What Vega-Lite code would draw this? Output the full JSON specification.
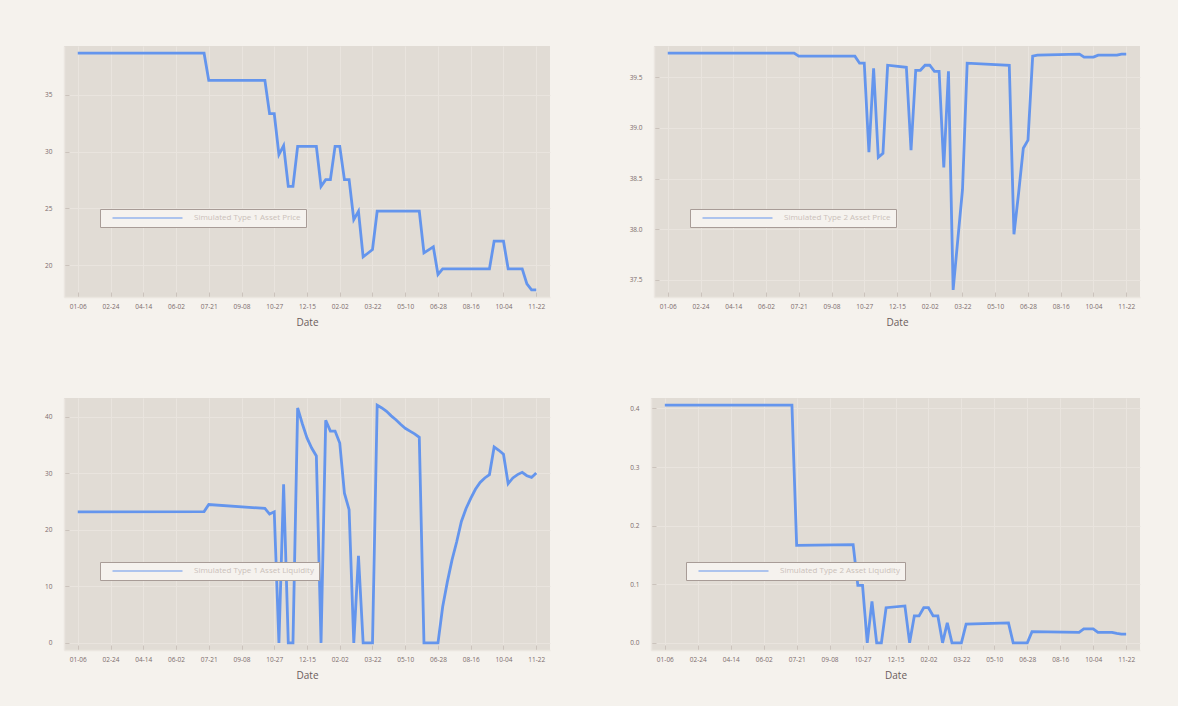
{
  "$schema": "https://vega.github.io/schema/vega-lite/v6.json",
  "background": "#f5f2ed",
  "padding": {"top": 46, "left": 34, "right": 38, "bottom": 30},
  "autosize": {"type": "pad"},
  "datasets": {
    "p1": [
      {"date": "2019-01-06T00:00:00", "value": 38.66},
      {"date": "2019-07-14T00:00:00", "value": 38.66},
      {"date": "2019-07-21T00:00:00", "value": 36.26},
      {"date": "2019-10-13T00:00:00", "value": 36.26},
      {"date": "2019-10-20T00:00:00", "value": 33.33},
      {"date": "2019-10-27T00:00:00", "value": 33.33},
      {"date": "2019-11-03T00:00:00", "value": 29.73},
      {"date": "2019-11-10T00:00:00", "value": 30.52},
      {"date": "2019-11-17T00:00:00", "value": 26.94},
      {"date": "2019-11-24T00:00:00", "value": 26.94},
      {"date": "2019-12-01T00:00:00", "value": 30.46},
      {"date": "2019-12-29T00:00:00", "value": 30.46},
      {"date": "2020-01-05T00:00:00", "value": 26.94},
      {"date": "2020-01-12T00:00:00", "value": 27.53},
      {"date": "2020-01-19T00:00:00", "value": 27.53},
      {"date": "2020-01-26T00:00:00", "value": 30.46},
      {"date": "2020-02-02T00:00:00", "value": 30.46},
      {"date": "2020-02-09T00:00:00", "value": 27.53},
      {"date": "2020-02-16T00:00:00", "value": 27.53},
      {"date": "2020-02-23T00:00:00", "value": 24.01},
      {"date": "2020-03-01T00:00:00", "value": 24.75},
      {"date": "2020-03-08T00:00:00", "value": 20.73},
      {"date": "2020-03-15T00:00:00", "value": 21.05},
      {"date": "2020-03-22T00:00:00", "value": 21.38},
      {"date": "2020-03-29T00:00:00", "value": 24.75},
      {"date": "2020-05-31T00:00:00", "value": 24.75},
      {"date": "2020-06-07T00:00:00", "value": 21.08},
      {"date": "2020-06-14T00:00:00", "value": 21.35},
      {"date": "2020-06-21T00:00:00", "value": 21.61},
      {"date": "2020-06-28T00:00:00", "value": 19.18},
      {"date": "2020-07-05T00:00:00", "value": 19.68},
      {"date": "2020-09-13T00:00:00", "value": 19.68},
      {"date": "2020-09-20T00:00:00", "value": 22.11},
      {"date": "2020-10-04T00:00:00", "value": 22.11},
      {"date": "2020-10-11T00:00:00", "value": 19.68},
      {"date": "2020-11-01T00:00:00", "value": 19.68},
      {"date": "2020-11-08T00:00:00", "value": 18.36},
      {"date": "2020-11-15T00:00:00", "value": 17.83},
      {"date": "2020-11-22T00:00:00", "value": 17.83}
    ],
    "p2": [
      {"date": "2019-01-06T00:00:00", "value": 39.74},
      {"date": "2019-07-14T00:00:00", "value": 39.74},
      {"date": "2019-07-21T00:00:00", "value": 39.71},
      {"date": "2019-10-13T00:00:00", "value": 39.71},
      {"date": "2019-10-20T00:00:00", "value": 39.64},
      {"date": "2019-10-27T00:00:00", "value": 39.64},
      {"date": "2019-11-03T00:00:00", "value": 38.76},
      {"date": "2019-11-10T00:00:00", "value": 39.59},
      {"date": "2019-11-17T00:00:00", "value": 38.71},
      {"date": "2019-11-24T00:00:00", "value": 38.75},
      {"date": "2019-12-01T00:00:00", "value": 39.62},
      {"date": "2019-12-29T00:00:00", "value": 39.60},
      {"date": "2020-01-05T00:00:00", "value": 38.78},
      {"date": "2020-01-12T00:00:00", "value": 39.57},
      {"date": "2020-01-19T00:00:00", "value": 39.57},
      {"date": "2020-01-26T00:00:00", "value": 39.62},
      {"date": "2020-02-02T00:00:00", "value": 39.62},
      {"date": "2020-02-09T00:00:00", "value": 39.56},
      {"date": "2020-02-16T00:00:00", "value": 39.56},
      {"date": "2020-02-23T00:00:00", "value": 38.61},
      {"date": "2020-03-01T00:00:00", "value": 39.56},
      {"date": "2020-03-08T00:00:00", "value": 37.40},
      {"date": "2020-03-15T00:00:00", "value": 37.90},
      {"date": "2020-03-22T00:00:00", "value": 38.39},
      {"date": "2020-03-29T00:00:00", "value": 39.64},
      {"date": "2020-05-31T00:00:00", "value": 39.62},
      {"date": "2020-06-07T00:00:00", "value": 37.95},
      {"date": "2020-06-14T00:00:00", "value": 38.36},
      {"date": "2020-06-21T00:00:00", "value": 38.80},
      {"date": "2020-06-28T00:00:00", "value": 38.88},
      {"date": "2020-07-05T00:00:00", "value": 39.71},
      {"date": "2020-07-12T00:00:00", "value": 39.72},
      {"date": "2020-09-13T00:00:00", "value": 39.73},
      {"date": "2020-09-20T00:00:00", "value": 39.70},
      {"date": "2020-10-04T00:00:00", "value": 39.70},
      {"date": "2020-10-11T00:00:00", "value": 39.72},
      {"date": "2020-11-08T00:00:00", "value": 39.72},
      {"date": "2020-11-15T00:00:00", "value": 39.73},
      {"date": "2020-11-22T00:00:00", "value": 39.73}
    ],
    "p3": [
      {"date": "2019-01-06T00:00:00", "value": 23.2},
      {"date": "2019-07-14T00:00:00", "value": 23.25},
      {"date": "2019-07-21T00:00:00", "value": 24.5},
      {"date": "2019-10-13T00:00:00", "value": 23.8},
      {"date": "2019-10-20T00:00:00", "value": 22.8},
      {"date": "2019-10-27T00:00:00", "value": 23.2},
      {"date": "2019-11-03T00:00:00", "value": 0},
      {"date": "2019-11-10T00:00:00", "value": 28.1},
      {"date": "2019-11-17T00:00:00", "value": 0},
      {"date": "2019-11-24T00:00:00", "value": 0},
      {"date": "2019-12-01T00:00:00", "value": 41.6},
      {"date": "2019-12-08T00:00:00", "value": 38.8},
      {"date": "2019-12-15T00:00:00", "value": 36.3},
      {"date": "2019-12-22T00:00:00", "value": 34.5},
      {"date": "2019-12-29T00:00:00", "value": 33.1},
      {"date": "2020-01-05T00:00:00", "value": 0},
      {"date": "2020-01-12T00:00:00", "value": 39.4},
      {"date": "2020-01-19T00:00:00", "value": 37.5},
      {"date": "2020-01-26T00:00:00", "value": 37.5},
      {"date": "2020-02-02T00:00:00", "value": 35.4},
      {"date": "2020-02-09T00:00:00", "value": 26.5},
      {"date": "2020-02-16T00:00:00", "value": 23.6},
      {"date": "2020-02-23T00:00:00", "value": 0},
      {"date": "2020-03-01T00:00:00", "value": 15.4},
      {"date": "2020-03-08T00:00:00", "value": 0},
      {"date": "2020-03-15T00:00:00", "value": 0},
      {"date": "2020-03-22T00:00:00", "value": 0},
      {"date": "2020-03-29T00:00:00", "value": 42.1},
      {"date": "2020-04-05T00:00:00", "value": 41.6},
      {"date": "2020-04-12T00:00:00", "value": 41.0},
      {"date": "2020-04-19T00:00:00", "value": 40.2},
      {"date": "2020-04-26T00:00:00", "value": 39.5},
      {"date": "2020-05-03T00:00:00", "value": 38.7},
      {"date": "2020-05-10T00:00:00", "value": 38.0},
      {"date": "2020-05-17T00:00:00", "value": 37.5},
      {"date": "2020-05-24T00:00:00", "value": 37.0},
      {"date": "2020-05-31T00:00:00", "value": 36.4},
      {"date": "2020-06-07T00:00:00", "value": 0},
      {"date": "2020-06-28T00:00:00", "value": 0},
      {"date": "2020-07-05T00:00:00", "value": 6.4},
      {"date": "2020-07-12T00:00:00", "value": 10.8},
      {"date": "2020-07-19T00:00:00", "value": 14.7},
      {"date": "2020-07-26T00:00:00", "value": 17.9},
      {"date": "2020-08-02T00:00:00", "value": 21.5},
      {"date": "2020-08-09T00:00:00", "value": 23.8},
      {"date": "2020-08-16T00:00:00", "value": 25.6},
      {"date": "2020-08-23T00:00:00", "value": 27.2},
      {"date": "2020-08-30T00:00:00", "value": 28.4},
      {"date": "2020-09-06T00:00:00", "value": 29.2},
      {"date": "2020-09-13T00:00:00", "value": 29.8},
      {"date": "2020-09-20T00:00:00", "value": 34.7},
      {"date": "2020-09-27T00:00:00", "value": 34.1},
      {"date": "2020-10-04T00:00:00", "value": 33.4},
      {"date": "2020-10-11T00:00:00", "value": 28.2},
      {"date": "2020-10-18T00:00:00", "value": 29.2},
      {"date": "2020-10-25T00:00:00", "value": 29.8},
      {"date": "2020-11-01T00:00:00", "value": 30.2},
      {"date": "2020-11-08T00:00:00", "value": 29.6},
      {"date": "2020-11-15T00:00:00", "value": 29.3},
      {"date": "2020-11-22T00:00:00", "value": 30.1}
    ],
    "p4": [
      {"date": "2019-01-06T00:00:00", "value": 0.4057},
      {"date": "2019-07-14T00:00:00", "value": 0.4057},
      {"date": "2019-07-21T00:00:00", "value": 0.1664},
      {"date": "2019-10-13T00:00:00", "value": 0.1675},
      {"date": "2019-10-20T00:00:00", "value": 0.098},
      {"date": "2019-10-27T00:00:00", "value": 0.098},
      {"date": "2019-11-03T00:00:00", "value": 0},
      {"date": "2019-11-10T00:00:00", "value": 0.0707},
      {"date": "2019-11-17T00:00:00", "value": 0},
      {"date": "2019-11-24T00:00:00", "value": 0},
      {"date": "2019-12-01T00:00:00", "value": 0.060},
      {"date": "2019-12-29T00:00:00", "value": 0.063},
      {"date": "2020-01-05T00:00:00", "value": 0},
      {"date": "2020-01-12T00:00:00", "value": 0.046},
      {"date": "2020-01-19T00:00:00", "value": 0.046},
      {"date": "2020-01-26T00:00:00", "value": 0.060},
      {"date": "2020-02-02T00:00:00", "value": 0.060},
      {"date": "2020-02-09T00:00:00", "value": 0.046},
      {"date": "2020-02-16T00:00:00", "value": 0.046},
      {"date": "2020-02-23T00:00:00", "value": 0},
      {"date": "2020-03-01T00:00:00", "value": 0.034},
      {"date": "2020-03-08T00:00:00", "value": 0},
      {"date": "2020-03-22T00:00:00", "value": 0},
      {"date": "2020-03-29T00:00:00", "value": 0.032},
      {"date": "2020-05-31T00:00:00", "value": 0.034},
      {"date": "2020-06-07T00:00:00", "value": 0},
      {"date": "2020-06-28T00:00:00", "value": 0},
      {"date": "2020-07-05T00:00:00", "value": 0.019},
      {"date": "2020-09-13T00:00:00", "value": 0.018},
      {"date": "2020-09-20T00:00:00", "value": 0.024},
      {"date": "2020-10-04T00:00:00", "value": 0.024},
      {"date": "2020-10-11T00:00:00", "value": 0.018},
      {"date": "2020-11-01T00:00:00", "value": 0.018},
      {"date": "2020-11-08T00:00:00", "value": 0.016},
      {"date": "2020-11-15T00:00:00", "value": 0.015},
      {"date": "2020-11-22T00:00:00", "value": 0.015}
    ]
  },
  "config": {
    "view": {"fill": "#e1dcd5", "stroke": null},
    "axis": {
      "labelFont": "Open Sans", "labelFontSize": 6.5, "labelColor": "#7b6c6c",
      "titleFont": "Open Sans", "titleFontSize": 10, "titleColor": "#6b5c5c", "titleFontWeight": "normal",
      "gridColor": "#e9e4de", "gridWidth": 1,
      "domainColor": "#ebe6e0", "domainWidth": 1.5,
      "tickColor": "#cbc3bc", "tickSize": -5
    },
    "axisX": {"labelPadding": 11, "titlePadding": 8, "labelAngle": 0},
    "axisY": {"labelPadding": 17, "minExtent": 30, "maxExtent": 30},
    "legend": {
      "orient": "none", "title": null, "symbolType": "stroke", "symbolSize": 4900, "symbolStrokeWidth": 1,
      "clipHeight": 8, "padding": 5, "symbolOffset": 7, "labelOffset": 11,
      "fillColor": "#f5f2ee", "strokeColor": "#a89c97",
      "labelFont": "Open Sans", "labelFontSize": 8, "labelColor": "#cbc1ba"
    }
  },
  "resolve": {"scale": {"x": "independent", "y": "independent", "color": "independent"}, "legend": {"color": "independent"}},
  "spacing": 70,
  "vconcat": [
    {
      "spacing": 74,
      "resolve": {"scale": {"x": "independent", "y": "independent", "color": "independent"}, "legend": {"color": "independent"}},
      "hconcat": [
        {
          "width": 486, "height": 251,
          "data": {"name": "p1"},
          "mark": {"type": "line", "strokeWidth": 2.8, "clip": true},
          "encoding": {
            "x": {"field": "date", "type": "temporal",
              "scale": {"domain": [{"year": 2018, "month": 12, "date": 16, "hours": 10}, {"year": 2020, "month": 12, "date": 12, "hours": 14}]},
              "axis": {"title": "Date", "format": "%m-%d", "values": [
                {"year": 2019, "month": 1, "date": 6}, {"year": 2019, "month": 2, "date": 24}, {"year": 2019, "month": 4, "date": 14},
                {"year": 2019, "month": 6, "date": 2}, {"year": 2019, "month": 7, "date": 21}, {"year": 2019, "month": 9, "date": 8},
                {"year": 2019, "month": 10, "date": 27}, {"year": 2019, "month": 12, "date": 15}, {"year": 2020, "month": 2, "date": 2},
                {"year": 2020, "month": 3, "date": 22}, {"year": 2020, "month": 5, "date": 10}, {"year": 2020, "month": 6, "date": 28},
                {"year": 2020, "month": 8, "date": 16}, {"year": 2020, "month": 10, "date": 4}, {"year": 2020, "month": 11, "date": 22}]}},
            "y": {"field": "value", "type": "quantitative",
              "scale": {"domain": [17.2, 39.29], "nice": false, "zero": false},
              "axis": {"title": null, "values": [20, 25, 30, 35], "format": "d"}},
            "color": {"datum": "Simulated Type 1 Asset Price", "type": "nominal", "scale": {"range": ["#6495ed"]},
              "legend": {"legendX": 36, "legendY": 163, "labelExpr": "datum.label + '\u2003\u2003'"}}
          }
        },
        {
          "width": 486, "height": 251,
          "data": {"name": "p2"},
          "mark": {"type": "line", "strokeWidth": 2.8, "clip": true},
          "encoding": {
            "x": {"field": "date", "type": "temporal",
              "scale": {"domain": [{"year": 2018, "month": 12, "date": 16, "hours": 10}, {"year": 2020, "month": 12, "date": 12, "hours": 14}]},
              "axis": {"title": "Date", "format": "%m-%d", "values": [
                {"year": 2019, "month": 1, "date": 6}, {"year": 2019, "month": 2, "date": 24}, {"year": 2019, "month": 4, "date": 14},
                {"year": 2019, "month": 6, "date": 2}, {"year": 2019, "month": 7, "date": 21}, {"year": 2019, "month": 9, "date": 8},
                {"year": 2019, "month": 10, "date": 27}, {"year": 2019, "month": 12, "date": 15}, {"year": 2020, "month": 2, "date": 2},
                {"year": 2020, "month": 3, "date": 22}, {"year": 2020, "month": 5, "date": 10}, {"year": 2020, "month": 6, "date": 28},
                {"year": 2020, "month": 8, "date": 16}, {"year": 2020, "month": 10, "date": 4}, {"year": 2020, "month": 11, "date": 22}]}},
            "y": {"field": "value", "type": "quantitative",
              "scale": {"domain": [37.33, 39.81], "nice": false, "zero": false},
              "axis": {"title": null, "values": [37.5, 38, 38.5, 39, 39.5], "format": ".1f"}},
            "color": {"datum": "Simulated Type 2 Asset Price", "type": "nominal", "scale": {"range": ["#6495ed"]},
              "legend": {"legendX": 36, "legendY": 163, "labelExpr": "datum.label + '\u2003\u2003'"}}
          }
        }
      ]
    },
    {
      "spacing": 74,
      "resolve": {"scale": {"x": "independent", "y": "independent", "color": "independent"}, "legend": {"color": "independent"}},
      "hconcat": [
        {
          "width": 486, "height": 252,
          "data": {"name": "p3"},
          "mark": {"type": "line", "strokeWidth": 2.8, "clip": true},
          "encoding": {
            "x": {"field": "date", "type": "temporal",
              "scale": {"domain": [{"year": 2018, "month": 12, "date": 16, "hours": 10}, {"year": 2020, "month": 12, "date": 12, "hours": 14}]},
              "axis": {"title": "Date", "format": "%m-%d", "values": [
                {"year": 2019, "month": 1, "date": 6}, {"year": 2019, "month": 2, "date": 24}, {"year": 2019, "month": 4, "date": 14},
                {"year": 2019, "month": 6, "date": 2}, {"year": 2019, "month": 7, "date": 21}, {"year": 2019, "month": 9, "date": 8},
                {"year": 2019, "month": 10, "date": 27}, {"year": 2019, "month": 12, "date": 15}, {"year": 2020, "month": 2, "date": 2},
                {"year": 2020, "month": 3, "date": 22}, {"year": 2020, "month": 5, "date": 10}, {"year": 2020, "month": 6, "date": 28},
                {"year": 2020, "month": 8, "date": 16}, {"year": 2020, "month": 10, "date": 4}, {"year": 2020, "month": 11, "date": 22}]}},
            "y": {"field": "value", "type": "quantitative",
              "scale": {"domain": [-1.26, 43.36], "nice": false, "zero": false},
              "axis": {"title": null, "values": [0, 10, 20, 30, 40], "format": "d"}},
            "color": {"datum": "Simulated Type 1 Asset Liquidity", "type": "nominal", "scale": {"range": ["#6495ed"]},
              "legend": {"legendX": 36, "legendY": 164, "labelExpr": "datum.label + '\u2003\u2003'"}}
          }
        },
        {
          "width": 489, "height": 252,
          "data": {"name": "p4"},
          "mark": {"type": "line", "strokeWidth": 2.8, "clip": true},
          "encoding": {
            "x": {"field": "date", "type": "temporal",
              "scale": {"domain": [{"year": 2018, "month": 12, "date": 16, "hours": 10}, {"year": 2020, "month": 12, "date": 12, "hours": 14}]},
              "axis": {"title": "Date", "format": "%m-%d", "values": [
                {"year": 2019, "month": 1, "date": 6}, {"year": 2019, "month": 2, "date": 24}, {"year": 2019, "month": 4, "date": 14},
                {"year": 2019, "month": 6, "date": 2}, {"year": 2019, "month": 7, "date": 21}, {"year": 2019, "month": 9, "date": 8},
                {"year": 2019, "month": 10, "date": 27}, {"year": 2019, "month": 12, "date": 15}, {"year": 2020, "month": 2, "date": 2},
                {"year": 2020, "month": 3, "date": 22}, {"year": 2020, "month": 5, "date": 10}, {"year": 2020, "month": 6, "date": 28},
                {"year": 2020, "month": 8, "date": 16}, {"year": 2020, "month": 10, "date": 4}, {"year": 2020, "month": 11, "date": 22}]}},
            "y": {"field": "value", "type": "quantitative",
              "scale": {"domain": [-0.0122, 0.4179], "nice": false, "zero": false},
              "axis": {"title": null, "values": [0, 0.1, 0.2, 0.3, 0.4], "format": ".1f", "minExtent": 27, "maxExtent": 27}},
            "color": {"datum": "Simulated Type 2 Asset Liquidity", "type": "nominal", "scale": {"range": ["#6495ed"]},
              "legend": {"legendX": 35, "legendY": 164, "labelExpr": "datum.label + '\u2003\u2003'"}}
          }
        }
      ]
    }
  ]
}
